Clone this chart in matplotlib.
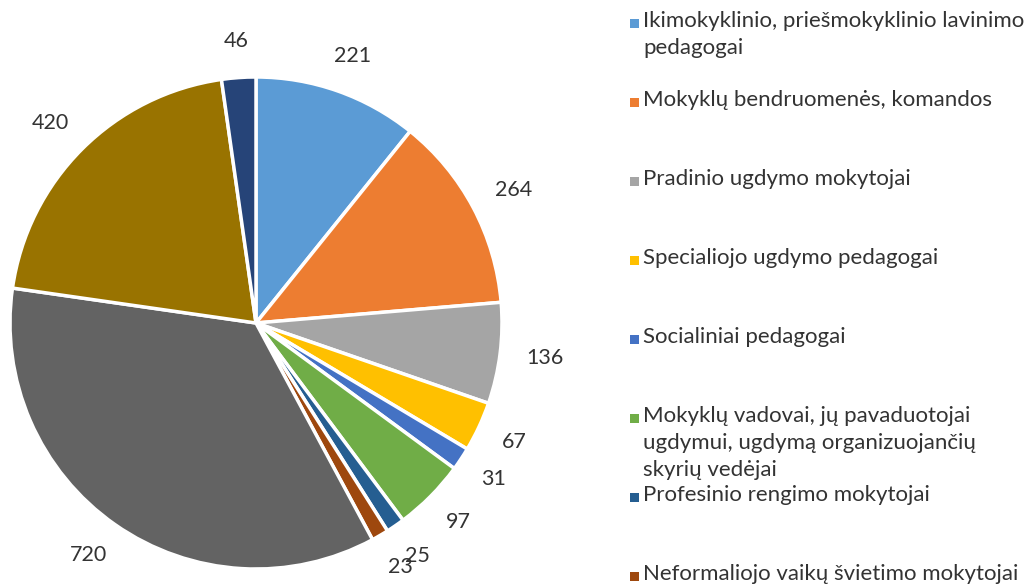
import numpy as np
import matplotlib.pyplot as plt
from matplotlib.patches import Rectangle

plt.rcParams['font.family'] = ['Lato', 'DejaVu Sans']

# Slice data, clockwise from 12 o'clock
values = [221, 264, 136, 67, 31, 97, 25, 23, 720, 420, 46]
colors = ["#5B9BD5", "#ED7D31", "#A5A5A5", "#FFC000", "#4472C4", "#70AD47",
          "#255E91", "#9E480E", "#636363", "#997300", "#264478"]
# legend entries visible in the picture (rest fall below the canvas)
categories = [
    "Ikimokyklinio, priešmokyklinio lavinimo\npedagogai",
    "Mokyklų bendruomenės, komandos",
    "Pradinio ugdymo mokytojai",
    "Specialiojo ugdymo pedagogai",
    "Socialiniai pedagogai",
    "Mokyklų vadovai, jų pavaduotojai\nugdymui, ugdymą organizuojančių\nskyrių vedėjai",
    "Profesinio rengimo mokytojai",
    "Neformaliojo vaikų švietimo mokytojai",
]

W, H = 1027, 585
fig = plt.figure(figsize=(W / 100, H / 100), dpi=100)

# pie placed in pixel space: centre (256, 323 from top), radius 246
cx, cy, r = 256, 323, 246
ax = fig.add_axes([(cx - r) / W, (H - cy - r) / H, 2 * r / W, 2 * r / H])
wedges, _ = ax.pie(values, colors=colors, startangle=90, counterclock=False,
                   radius=1, wedgeprops=dict(edgecolor="white", linewidth=2.5))
ax.set_xlim(-1, 1)
ax.set_ylim(-1, 1)
ax.set_aspect("equal")
ax.axis("off")

# data labels outside each slice, box edge kept a gap away from the rim
gap = 27 / r
hh = 10 / r
for w, v in zip(wedges, values):
    ang = np.deg2rad((w.theta1 + w.theta2) / 2)
    hw = 6.2 * len(str(v)) / r
    x = (1 + gap) * np.cos(ang) + hw * np.cos(ang)
    y = (1 + gap) * np.sin(ang) + hh * np.sin(ang)
    ax.text(x, y, str(v), ha="center", va="center", fontsize=15.5,
            color="#333333")

# legend
step = 79
for i, (lab, col) in enumerate(zip(categories, colors)):
    ytop = 11 + i * step
    fig.patches.append(Rectangle((630 / W, 1 - (ytop + 17) / H), 9 / W, 9 / H,
                                 transform=fig.transFigure, facecolor=col,
                                 edgecolor="none"))
    fig.text(643 / W, 1 - ytop / H, lab, ha="left", va="top", fontsize=16,
             color="#333333", linespacing=1.45)

fig.savefig("out.png", dpi=100, facecolor="white")
